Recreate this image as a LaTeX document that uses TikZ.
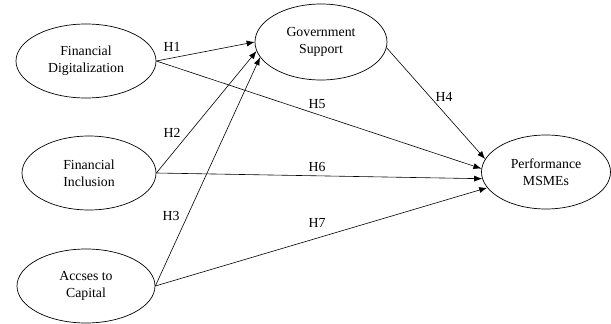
\documentclass[tikz,border=0pt]{standalone}
\usepackage{fontspec}
\setmainfont{Liberation Serif}
\usetikzlibrary{shapes.geometric,arrows.meta}
\begin{document}
\begin{tikzpicture}[x=1pt,y=-1pt,
  var/.style={ellipse,draw,line width=0.7pt,inner sep=0pt,align=center,font=\fontsize{13.8}{17}\selectfont},
  conn/.style={line width=0.6pt,-{Latex[length=8pt,width=6pt]}},
  hlab/.style={font=\fontsize{13.8}{16}\selectfont,inner sep=0pt}]
\useasboundingbox (0,0) rectangle (611,324);
\node[var,minimum width=140pt,minimum height=74pt] (fd) at (86,61) {Financial\\Digitalization};
\node[var,minimum width=134pt,minimum height=74pt] (fi) at (89,173) {Financial\\Inclusion};
\node[var,minimum width=138pt,minimum height=74pt] (ac) at (86,286) {Accses to\\Capital};
\node[var,minimum width=132pt,minimum height=76pt] (gs) at (321,42) {Government\\Support};
\node[var,minimum width=129pt,minimum height=74pt] (pm) at (546,172) {Performance\\MSMEs};
\draw[conn] (fd.east) -- (gs.180);
\draw[conn] (fd.east) -- (pm.177);
\draw[conn] (fi.east) -- (gs.188);
\draw[conn] (ac.east) -- (gs.194);
\draw[conn] (fi.east) -- (pm.186);
\draw[conn] (ac.east) -- (pm.195);
\draw[conn] (gs.355) -- (pm.168);
\node[hlab] (h1) at (172,47) {H1};
\node[hlab] (h2) at (172,133) {H2};
\node[hlab] (h3) at (171,216) {H3};
\node[hlab] (h4) at (444,97) {H4};
\node[hlab] (h5) at (317,104) {H5};
\node[hlab] (h6) at (317,167) {H6};
\node[hlab] (h7) at (317,223) {H7};
\end{tikzpicture}
\end{document}
